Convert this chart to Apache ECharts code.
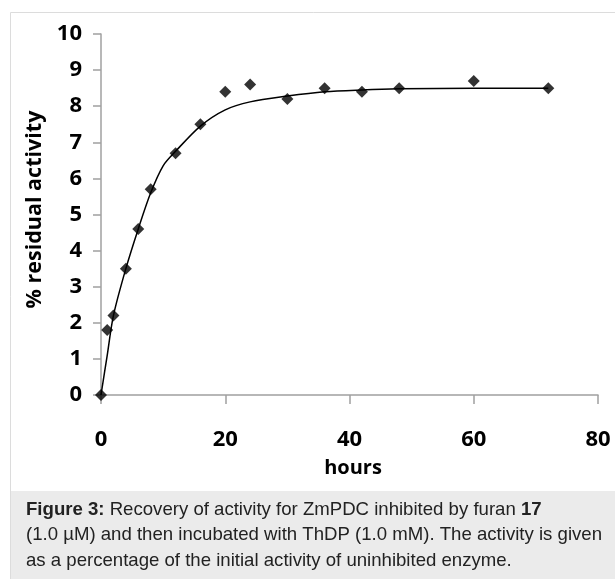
<!DOCTYPE html>
<html>
<head>
<meta charset="utf-8">
<script src="https://cdn.jsdelivr.net/npm/echarts@6/dist/echarts.min.js"></script>
<style>
html,body{margin:0;padding:0;background:#fff;}
#chart{width:615px;height:579px;}
</style>
</head>
<body>
<div id="chart"></div>
<script>
// Measured data points (hours, % residual activity)
const hours = [0, 1, 2, 4, 6, 8, 12, 16, 20, 24, 30, 36, 42, 48, 60, 72];
const activity = [0, 1.8, 2.2, 3.5, 4.6, 5.7, 6.7, 7.5, 8.4, 8.6, 8.2, 8.5, 8.4, 8.5, 8.7, 8.5];
// Fitted curve
const fitHours = [0, 1, 2, 4, 6, 8, 10, 12, 16, 20, 24, 30, 36, 42, 48, 60, 72];
const fitActivity = [0, 1.1, 2.2, 3.5, 4.6, 5.6, 6.35, 6.75, 7.45, 7.9, 8.12, 8.28, 8.4, 8.45, 8.48, 8.5, 8.5];
const xTicks = [0, 20, 40, 60, 80];
const yTicks = [0, 1, 2, 3, 4, 5, 6, 7, 8, 9, 10];

const chart = echarts.init(document.getElementById('chart'), null, {renderer: 'canvas'});
const axisFont = {fontFamily: 'Open Sans', fontWeight: 'bold', color: '#000'};
const axisLineStyle = {color: '#a0a0a0', width: 1.5};

chart.setOption({
  animation: false,
  backgroundColor: '#fff',
  graphic: [
    {type: 'rect', shape: {x: 10.5, y: 12.5, width: 640, height: 600}, style: {fill: '#fff', stroke: '#dcdcdc', lineWidth: 1}, z: -10},
    {type: 'rect', shape: {x: 11, y: 491, width: 604, height: 88}, style: {fill: '#ebebeb'}, z: -9},
    {type: 'text', left: 26, top: 497, z: 10, style: {
      text: '{b|Figure 3:} Recovery of activity for ZmPDC inhibited by furan {b|17}\n(1.0 µM) and then incubated with ThDP (1.0 mM). The activity is given\nas a percentage of the initial activity of uninhibited enzyme.',
      fontFamily: 'Liberation Sans', fontSize: 18.6, lineHeight: 25.5, fill: '#222',
      rich: {b: {fontFamily: 'Liberation Sans', fontSize: 18.6, fontWeight: 'bold', fill: '#222', lineHeight: 25.5}}
    }}
  ],
  grid: {left: 101, right: 17, top: 34, bottom: 184, containLabel: false},
  xAxis: {
    type: 'value', min: xTicks[0], max: xTicks[xTicks.length - 1], interval: 20,
    name: 'hours', nameLocation: 'middle', nameGap: 63,
    nameTextStyle: Object.assign({fontSize: 20, padding: [0, 0, 0, 7]}, axisFont),
    axisLine: {show: true, lineStyle: axisLineStyle},
    axisTick: {show: true, inside: false, length: 9, lineStyle: axisLineStyle},
    axisLabel: Object.assign({fontSize: 22, margin: 34}, axisFont),
    splitLine: {show: false}
  },
  yAxis: {
    type: 'value', min: yTicks[0], max: yTicks[yTicks.length - 1], interval: 1,
    name: '% residual activity', nameLocation: 'middle', nameGap: 54, nameRotate: 90,
    nameTextStyle: Object.assign({fontSize: 21.5, padding: [0, 0, 0, 10]}, axisFont),
    axisLine: {show: true, lineStyle: axisLineStyle},
    axisTick: {show: true, inside: false, length: 8, lineStyle: axisLineStyle},
    axisLabel: Object.assign({fontSize: 22, margin: 19}, axisFont),
    splitLine: {show: false}
  },
  series: [
    {
      type: 'line', data: fitHours.map((h, i) => [h, fitActivity[i]]),
      smooth: 0.3, showSymbol: false, symbol: 'none',
      lineStyle: {color: '#000', width: 1.5}, z: 2
    },
    {
      type: 'scatter', data: hours.map((h, i) => [h, activity[i]]),
      symbol: 'diamond', symbolSize: 12,
      itemStyle: {color: '#000'}, z: 3
    }
  ]
});
</script>
</body>
</html>
